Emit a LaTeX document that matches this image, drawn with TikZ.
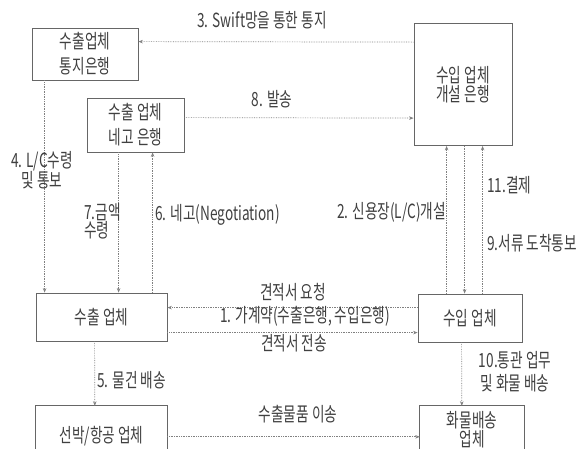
\documentclass[tikz,border=0pt]{standalone}
\usepackage{fontspec}
\newfontfamily\kr[FakeStretch=0.7]{Noto Sans CJK KR}
\usetikzlibrary{arrows.meta,positioning}
\begin{document}
\begin{tikzpicture}[x=1pt,y=-1pt,
  box/.style={draw=black!60, line width=0.8pt, fill=white, inner sep=0pt, align=center,
    text=black!75, font=\kr\fontsize{19.5}{25}\selectfont},
  openbox/.style={inner sep=0pt},
  boxline/.style={draw=black!60, line width=0.8pt},
  lbl/.style={inner sep=0pt, text=black!75, font=\kr\fontsize{19.5}{20}\selectfont},
  conn/.style={draw=black!50, densely dotted, line width=0.7pt,
    -{Stealth[length=4.5pt,width=3.5pt]}}]
\useasboundingbox[fill=white] (0,0) rectangle (582,448);

% boxes
\node[box, minimum width=106pt, minimum height=52pt] (ntf) at (85,54) {수출업체\\통지은행};
\node[box, minimum width=97pt, minimum height=54pt] (nego) at (135.5,125) {수출 업체\\네고 은행};
\node[box, minimum width=98pt, minimum height=122pt, font=\kr\fontsize{19.5}{19}\selectfont] (issue) at (463,84.5) {수입 업체\\개설 은행};
\node[box, minimum width=131pt, minimum height=48pt] (exp) at (101.5,317) {수출 업체};
\node[box, minimum width=104pt, minimum height=48pt] (imp) at (470,318) {수입 업체};
% bottom boxes run past the lower edge
\node[openbox, minimum width=131pt, minimum height=41pt] (ship) at (101.5,426.5) {};
\node[openbox, minimum width=104pt, minimum height=41pt] (cargo) at (472,426.5) {};
\draw[boxline] ([yshift=-5pt]ship.south west) -- (ship.north west) -- (ship.north east) -- ([yshift=-5pt]ship.south east);
\draw[boxline] ([yshift=-5pt]cargo.south west) -- (cargo.north west) -- (cargo.north east) -- ([yshift=-5pt]cargo.south east);
\node[lbl] (shipt) at (101.5,436) {선박/항공 업체};
\node[lbl, align=center, font=\kr\fontsize{19.5}{17.5}\selectfont] (cargot) at (472,429.5) {화물배송\\업체};

% connectors
\draw[conn] ([yshift=-19pt]issue.north west) -- ([yshift=-14pt]ntf.north east);
\draw[conn] ([yshift=-20pt]nego.north east) -- ([yshift=-95pt]issue.north west);
\draw[conn] ([xshift=13pt]ntf.south west) -- ([xshift=9pt]exp.north west);
\draw[conn] ([xshift=32pt]nego.south west) -- ([xshift=83pt]exp.north west);
\draw[conn] ([xshift=117pt]exp.north west) -- ([xshift=66pt]nego.south west);
\draw[conn] ([xshift=29pt]imp.north west) -- ([xshift=33pt]issue.south west);
\draw[conn] ([xshift=51pt]issue.south west) -- ([xshift=47pt]imp.north west);
\draw[conn] ([xshift=65pt]imp.north west) -- ([xshift=69pt]issue.south west);
\draw[conn] ([yshift=-14pt]imp.north west) -- ([yshift=-15pt]exp.north east);
\draw[conn] ([yshift=-40pt]exp.north east) -- ([yshift=-39pt]imp.north west);
\draw[conn] ([xshift=59pt]exp.south west) -- ([xshift=59pt]ship.north west);
\draw[conn] ([xshift=44pt]imp.south west) -- ([xshift=42pt]cargo.north west);
\draw[conn] ([yshift=-31pt]ship.north east) -- ([yshift=-31pt]cargo.north west);

% labels
\node[lbl] (l3) at (262,20) {3. Swift망을 통한 통지};
\node[lbl] (l8) at (272,99) {8. 발송};
\node[lbl, align=center, font=\kr\fontsize{19.5}{18}\selectfont] (l4) at (42,170) {4. L/C수령\\및 통보};
\node[lbl, align=left, anchor=west, font=\kr\fontsize{19.5}{18}\selectfont] (l7) at (84,221) {7.금액\\수령};
\node[lbl, anchor=west] (l6) at (155,215) {6. 네고(Negotiation)};
\node[lbl, anchor=east] (l2) at (446,212) {2. 신용장(L/C)개설};
\node[lbl, anchor=west] (l11) at (487,185) {11.결제};
\node[lbl, anchor=west] (l9) at (487,243) {9.서류 도착통보};
\node[lbl] (lq) at (293,292) {견적서 요청};
\node[lbl] (l1) at (305,316) {1. 가계약(수출은행, 수입은행)};
\node[lbl] (ls) at (294,343) {견적서 전송};
\node[lbl, anchor=west] (l5) at (97,380) {5. 물건 배송};
\node[lbl, align=center, font=\kr\fontsize{19.5}{23}\selectfont] (l10) at (515,371.5) {10.통관 업무\\및 화물 배송};
\node[lbl] (lt) at (298,414) {수출물품 이송};
\end{tikzpicture}
\end{document}
